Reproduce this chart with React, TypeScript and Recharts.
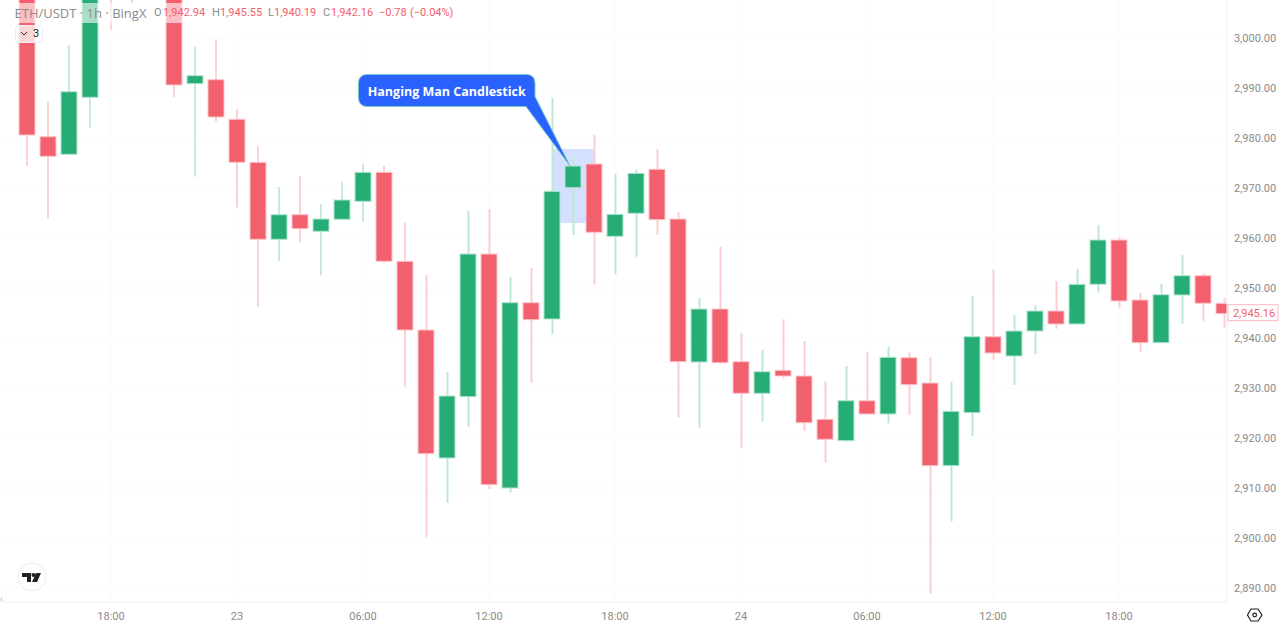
import React from "react";
import {
  ComposedChart, Bar, XAxis, YAxis, CartesianGrid, ReferenceArea, ReferenceDot,
} from "recharts";

// Values above the chart's top edge are out of view in the reference and are estimates.
const opens = [3030,2980.26,2976.74,2988.14,3025,3012,3030,3035,2990.86,2991.66,2983.74,2975.14,2959.74,2964.66,2961.34,2963.74,2967.34,2973.14,2955.34,2941.6,2916,2928.26,2956.8,2910,2947.06,2943.8,2970.06,2974.8,2960.34,2964.94,2973.74,2963.8,2935.2,2945.8,2935.26,2928.94,2933.54,2932.4,2923.74,2919.46,2927.46,2924.8,2936.06,2931,2914.46,2925.06,2940.26,2936.4,2941.4,2945.4,2942.8,2950.74,2959.6,2947.6,2939.06,2948.6,2952.46,2946.94];
const closes = [2980.6,2976.34,2989.26,3025,3010,3022,3015,2990.6,2992.46,2984.2,2975.14,2959.74,2964.66,2961.86,2963.8,2967.6,2973.14,2955.34,2941.6,2916.86,2928.4,2956.8,2910.66,2947.06,2943.66,2969.34,2974.4,2961.14,2964.74,2972.94,2963.66,2935.26,2945.8,2935.06,2928.94,2933.26,2932.4,2923.06,2919.74,2927.46,2924.8,2936.14,2930.66,2914.46,2925.34,2940.26,2937,2941.4,2945.4,2942.8,2950.74,2959.6,2947.4,2939.06,2948.66,2952.46,2946.94,2944.86];
const highs = [3040,2987.26,2998.6,3030,3030,3025,3035,3040,2998.26,2999.74,2985.74,2978.4,2970.14,2972.4,2966.74,2971.2,2974.8,2974.4,2963.06,2952.54,2933.2,2965.4,2965.8,2952.26,2954,2988,2976.14,2980.6,2972.8,2973.74,2977.8,2965.14,2948,2958.2,2941,2937.66,2943.74,2939.4,2931.34,2934.4,2937.14,2938.26,2937.14,2936.2,2931.2,2948.4,2953.6,2944.6,2946.6,2951.4,2953.8,2962.6,2960.14,2949.06,2950.8,2956.6,2952.94,2948];
const lows = [2974.4,2963.86,2976.7,2982.06,3001.6,3007,3010,2988.14,2972.26,2983.26,2966.14,2946.26,2955.4,2959.14,2952.54,2963.7,2963.26,2955.06,2930.26,2900.14,2907,2922.26,2909.8,2909.06,2931.14,2940.8,2960.6,2950.66,2952.8,2956.26,2960.66,2924.06,2922.06,2934.86,2918.06,2923.26,2931.86,2921.4,2915.14,2919.26,2924.8,2922.94,2924.6,2888.86,2903.26,2920.4,2935.66,2930.6,2936.8,2941.86,2942.8,2949.06,2945.94,2937.2,2939.06,2942.86,2943.46,2942.06];

const priceTicks = [2890,2900,2910,2920,2930,2940,2950,2960,2970,2980,2990,3000];
const timeTickIndexes = [4,10,16,22,28,34,40,46,52];
const timeTickLabels = ["18:00","23","06:00","12:00","18:00","24","06:00","12:00","18:00"];
const lastPrice = 2945.16;
const calloutText = "Hanging Man Candlestick";
const legendPieces = [
  { text: "ETH/USDT · 1h · BingX", left: 14.5, kind: "title" },
  { text: "O", left: 154, kind: "label" }, { text: "1,942.94", left: 163, kind: "value" },
  { text: "H", left: 212, kind: "label" }, { text: "1,945.55", left: 220, kind: "value" },
  { text: "L", left: 268, kind: "label" }, { text: "1,940.19", left: 274, kind: "value" },
  { text: "C", left: 323, kind: "label" }, { text: "1,942.16", left: 331, kind: "value" },
  { text: "−0.78", left: 379, kind: "value" }, { text: "(−0.04%)", left: 410, kind: "value" },
];

const rows = opens.map((o, i) => ({
  i,
  up: closes[i] >= o,
  body: [Math.min(o, closes[i]), Math.max(o, closes[i])],
  wick: [lows[i], highs[i]],
}));

const UP = "#26ad75";
const DOWN = "#f3606d";
const fmtPrice = (v: number) =>
  v.toLocaleString("en-US", { minimumFractionDigits: 2, maximumFractionDigits: 2 });
const fmtTime = (v: number) => timeTickLabels[timeTickIndexes.indexOf(v)] ?? "";
const FONT = "'Open Sans', sans-serif";
const NUM = "Roboto, sans-serif";

function Body(p: any) {
  const up = p.payload.up;
  return (
    <rect x={p.x + 0.5} y={p.y} width={p.width - 1} height={Math.max(p.height, 1)}
      fill={up ? UP : DOWN} stroke={up ? "#b6e4d2" : "#fbc6cb"} strokeWidth={1} />
  );
}
function Wick(p: any) {
  const up = p.payload.up;
  const thin = p.payload.i < 19;
  return (
    <rect x={p.x} y={p.y} width={thin ? 1 : 2} height={p.height}
      fill={up ? (thin ? "#8fd6bb" : "#bde8d8") : thin ? "#f9a6ae" : "#fccdd2"} />
  );
}
function Callout(p: any) {
  const { cx, cy } = p;
  const l = cx - 214.5, r = cx - 38, t = cy - 91.5, b = cy - 59.5, R = 9;
  const d = `M${l + R},${t} H${r - R} Q${r},${t} ${r},${t + R} V${b - 10} L${cx - 3},${cy} L${r - 9},${b} H${l + R} Q${l},${b} ${l},${b - R} V${t + R} Q${l},${t} ${l + R},${t} Z`;
  return (
    <g>
      <path d={d} fill="#2962ff" stroke="#73c9c6" strokeWidth={1} strokeLinejoin="round" />
      <text x={(l + r) / 2} y={t + 21} textAnchor="middle" fill="#ffffff" fontFamily={FONT}
        fontWeight={700} fontSize={12.5}>{calloutText}</text>
    </g>
  );
}
function PriceTag(p: any) {
  const { cy } = p;
  return (
    <g>
      <rect x={1228} y={cy - 7.5} width={50} height={16} fill="#ffffff" stroke="#fbb9bf" strokeWidth={1} />
      <text x={1254} y={cy + 4.5} textAnchor="middle" fill="#f3606d" fontFamily={NUM} fontSize={11}>
        {fmtPrice(lastPrice)}
      </text>
    </g>
  );
}

export default function App() {
  return (
    <div style={{ position: "absolute", left: 0, top: 0, width: 1280, height: 629, overflow: "hidden", background: "#fff" }}>
      <ComposedChart width={1280} height={629} data={rows} barGap={0}
        margin={{ top: 0, right: 0, bottom: 0, left: 0 }}>
        <CartesianGrid xAxisId="main" yAxisId="p" stroke="#fafafa" strokeWidth={1}
          verticalValues={timeTickIndexes} horizontalValues={priceTicks} />
        <XAxis xAxisId="main" dataKey="i" type="number" domain={[-27 / 21, 1200 / 21]} allowDataOverflow
          ticks={timeTickIndexes} tickFormatter={fmtTime} height={27} interval={0} tickLine={false}
          axisLine={{ stroke: "#f0f0f0" }} tick={{ fill: "#8a8a8a", fontSize: 11, fontFamily: NUM }} tickMargin={4} />
        <XAxis xAxisId="wick" dataKey="i" type="number" domain={[-27 / 21, 1200 / 21]} allowDataOverflow hide height={0} />
        <YAxis yAxisId="p" orientation="right" domain={[2887.2, 3007.6]} allowDataOverflow ticks={priceTicks}
          tickFormatter={fmtPrice} width={53} interval={0} tickLine={false} axisLine={{ stroke: "#f0f0f0" }}
          tick={{ fill: "#8a8a8a", fontSize: 11, fontFamily: NUM }} tickMargin={1} />
        <ReferenceArea xAxisId="main" yAxisId="p" x1={25} x2={27} y1={2963} y2={2977.8}
          fill="#2962ff" fillOpacity={0.2} stroke="none" />
        <Bar xAxisId="wick" yAxisId="p" dataKey="wick" barSize={1} shape={Wick} isAnimationActive={false} />
        <Bar xAxisId="main" yAxisId="p" dataKey="body" barSize={17} shape={Body} isAnimationActive={false} />
        <ReferenceDot xAxisId="main" yAxisId="p" x={57} y={lastPrice} shape={PriceTag} ifOverflow="visible" />
        <ReferenceDot xAxisId="main" yAxisId="p" x={26} y={2974.4} shape={Callout} ifOverflow="visible" />
      </ComposedChart>

      {/* legend strip */}
      <div style={{ position: "absolute", left: 15, top: 3, width: 437, height: 20, background: "rgba(255,255,255,0.6)" }} />
      {legendPieces.map((piece, k) => (
        <span key={k} style={{
          position: "absolute", left: piece.left, top: piece.kind === "title" ? 4 : 6, whiteSpace: "nowrap",
          fontFamily: piece.kind === "title" ? FONT : NUM, fontSize: piece.kind === "title" ? 13 : 11,
          color: piece.kind === "value" ? "#f3606d" : "#8a8a8a",
        }}>{piece.text}</span>
      ))}
      <div style={{
        position: "absolute", left: 15, top: 25, width: 26, height: 16, background: "rgba(255,255,255,0.75)",
        border: "1px solid #eeeeee", borderRadius: 3,
      }}>
        <svg style={{ position: "absolute", left: 4, top: 5 }} width={8} height={6}>
          <path d="M1 1l3 3 3-3" fill="none" stroke="#222" strokeWidth={1} />
        </svg>
        <span style={{ position: "absolute", left: 17, top: 0, fontFamily: NUM, fontSize: 11, lineHeight: "16px", color: "#222" }}>3</span>
      </div>

      {/* logo */}
      <svg style={{ position: "absolute", left: 17, top: 562 }} width={30} height={30}>
        <circle cx={15} cy={15} r={14} fill="#fff" stroke="#ececec" />
        <path d="M5 11h9v9h-4v-5H5zM24 11l-4 9h-5l4-9z" fill="#222" />
        <circle cx={16.5} cy={13} r={2} fill="#222" />
      </svg>
      {/* settings glyph */}
      <svg style={{ position: "absolute", left: 1246, top: 607 }} width={18} height={16}>
        <path d="M5 2h7l4 6-4 6H5L1.5 8z" fill="none" stroke="#222" strokeWidth={1.2} />
        <circle cx={8.7} cy={8} r={1.8} fill="none" stroke="#222" strokeWidth={1.2} />
      </svg>
      {/* scroll hint */}
      <span style={{ position: "absolute", left: 0, top: 591, fontFamily: FONT, fontSize: 10, color: "#bbbbbb" }}>‹</span>
    </div>
  );
}
